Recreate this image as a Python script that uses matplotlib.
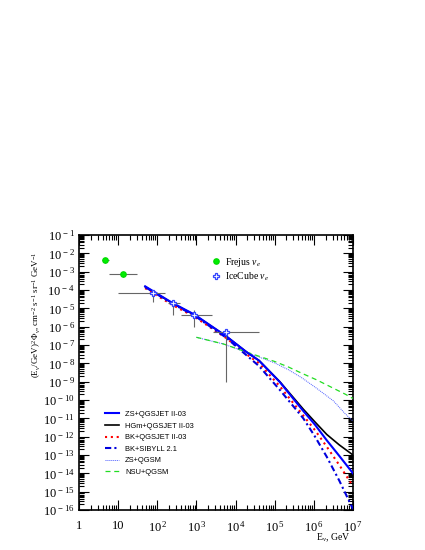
import numpy as np
import matplotlib
matplotlib.use("Agg")
import matplotlib.pyplot as plt
from matplotlib.ticker import LogLocator, FixedLocator, FuncFormatter, NullFormatter

plt.rcParams['font.family'] = ['Liberation Serif', 'DejaVu Serif']
plt.rcParams['mathtext.fontset'] = 'custom'
plt.rcParams['mathtext.rm'] = 'Liberation Serif'
plt.rcParams['mathtext.it'] = 'Liberation Serif:italic'

# ---- data (log10 values) ----
conv_logE = [1.69, 2.39, 2.95, 3.76, 4.29, 4.6, 5.13, 5.73, 6.03, 6.33, 6.65, 7.0]
zs_qgsjet = [-3.80, -4.71, -5.34, -6.52, -7.40, -7.85, -9.02, -10.6, -11.35, -12.2, -13.05, -14.0]
hgm_qgsjet = [-3.82, -4.73, -5.36, -6.52, -7.40, -7.85, -9.0, -10.5, -11.2, -11.88, -12.45, -13.0]
bk_qgsjet = [-3.90, -4.82, -5.46, -6.62, -7.52, -8.0, -9.25, -10.85, -11.65, -12.55, -13.55, -14.7]
bk_sibyll = [-3.84, -4.75, -5.40, -6.60, -7.58, -8.15, -9.45, -11.0, -12.0, -13.1, -14.4, -15.95]

qgsm_logE = [3.0, 3.7, 4.37, 5.0, 5.35, 5.7, 6.07, 6.5, 6.8, 7.0]
zs_qgsm = [-6.58, -6.95, -7.47, -7.98, -8.35, -8.8, -9.36, -10.05, -10.75, -11.15]
nsu_qgsm = [-6.58, -6.95, -7.45, -7.90, -8.20, -8.55, -8.9, -9.36, -9.68, -9.92]

frejus_E = [4.62, 13.6]
frejus_flux = [4.17e-3, 7.2e-4]
frejus_E_lo = [3.8, 5.9]
frejus_E_hi = [5.9, 30.9]
frejus_flux_lo = [2.9e-3, 4.9e-4]
frejus_flux_hi = [5.7e-3, 1.0e-3]

ice_E = [79, 248, 883, 5700]
ice_flux = [7.1e-5, 1.88e-5, 4.3e-6, 4.9e-7]
ice_E_lo = [10.1, 190, 404, 2650]
ice_E_hi = [157, 380, 2455, 40000]
ice_flux_lo = [2.1e-5, 4.3e-6, 1.0e-6, 1.0e-9]
ice_flux_hi = [8.0e-5, 2.2e-5, 8.5e-6, 5.8e-7]

curve_labels = ['ZS+QGSJET II-03', 'HGm+QGSJET II-03', 'BK+QGSJET II-03',
                'BK+SIBYLL 2.1', 'ZS+QGSM', 'NSU+QGSM']

xtick_exp = list(range(0, 8))
ytick_exp = list(range(-16, 0))

# ---- figure ----
fig = plt.figure(figsize=(4.25, 5.5), dpi=100)
ax = fig.add_axes([79/425, 1-510/550, (353-79)/425, (510-235)/550])
ax.set_xscale('log')
ax.set_yscale('log')
ax.set_xlim(1, 1e7)
ax.set_ylim(1e-16, 1e-1)

p = lambda a: np.power(10.0, a)
h1, = ax.plot(p(conv_logE), p(zs_qgsjet), color='#0000ff', lw=1.5, zorder=4)
h2, = ax.plot(p(conv_logE), p(hgm_qgsjet), color='black', lw=1.2, zorder=3)
h3, = ax.plot(p(conv_logE), p(bk_qgsjet), color='#ff0000', lw=1.5, ls=(0, (1, 1.8)), zorder=3)
h4, = ax.plot(p(conv_logE), p(bk_sibyll), color='#0000dd', lw=1.5, ls=(0, (3, 1.5, 1, 1.5)), zorder=3)
h5, = ax.plot(p(qgsm_logE), p(zs_qgsm), color='#4a5cff', lw=0.7, ls=(0, (1, 1)), zorder=3)
h6, = ax.plot(p(qgsm_logE), p(nsu_qgsm), color='#22dd22', lw=0.9, ls=(0, (4, 3)), zorder=3)

fe = np.array(frejus_E); ff = np.array(frejus_flux)
ax.errorbar(fe, ff,
            xerr=[fe - np.array(frejus_E_lo), np.array(frejus_E_hi) - fe],
            yerr=[ff - np.array(frejus_flux_lo), np.array(frejus_flux_hi) - ff],
            fmt='none', ecolor='#666666', elinewidth=0.8, capsize=0, zorder=5)
hf, = ax.plot(fe, ff, 'o', color='#00ee00', ms=3.8, mec='#00dd00', zorder=6, ls='none')

ie = np.array(ice_E); iflx = np.array(ice_flux)
ax.errorbar(ie, iflx,
            xerr=[ie - np.array(ice_E_lo), np.array(ice_E_hi) - ie],
            yerr=[iflx - np.array(ice_flux_lo), np.array(ice_flux_hi) - iflx],
            fmt='none', ecolor='#666666', elinewidth=0.8, capsize=0, zorder=5)
hi, = ax.plot(ie, iflx, 'P', mfc='white', mec='#3344ff', mew=0.9, ms=5, zorder=6, ls='none')

# ticks
ax.xaxis.set_major_locator(FixedLocator([10.0**e for e in xtick_exp]))
ax.yaxis.set_major_locator(FixedLocator([10.0**e for e in ytick_exp]))
ax.xaxis.set_minor_locator(LogLocator(base=10, subs=np.arange(2, 10), numticks=50))
ax.yaxis.set_minor_locator(LogLocator(base=10, subs=np.arange(2, 10), numticks=50))
ax.xaxis.set_minor_formatter(NullFormatter())
ax.yaxis.set_minor_formatter(NullFormatter())

def xfmt(v, pos):
    e = int(round(np.log10(v)))
    if e == 0:
        return '1'
    if e == 1:
        return '10'
    return r'$10^{\,%d}$' % e

def yfmt(v, pos):
    e = int(round(np.log10(v)))
    return r'$10^{\,%d}$' % e

ax.xaxis.set_major_formatter(FuncFormatter(xfmt))
ax.yaxis.set_major_formatter(FuncFormatter(yfmt))
ax.tick_params(which='both', direction='in', top=True, right=True, width=0.8, labelsize=9)
ax.tick_params(which='major', length=7)
ax.tick_params(which='minor', length=3.5)
ax.tick_params(axis='x', pad=7)
ax.tick_params(axis='y', pad=3)
for s in ax.spines.values():
    s.set_linewidth(1.2)

fig.text(37/425, 1-251/550,
         r'$(\mathrm{E}_{\nu}/\mathrm{GeV})^{2}\,\Phi_{\nu}$, cm$^{-2}$ s$^{-1}$ sr$^{-1}$ GeV$^{-1}$',
         rotation=90, ha='center', va='top', fontsize=6.5)
fig.text(351/425, 1-538/550, r'E$_{\nu}$, GeV', ha='right', va='center', fontsize=7)

leg1 = ax.legend([h1, h2, h3, h4, h5, h6], curve_labels, loc='upper left',
                 bbox_to_anchor=(101/425, 1-407/550), bbox_transform=fig.transFigure,
                 frameon=False, prop={'family': 'Liberation Sans', 'size': 5.4},
                 handlelength=1.9, handletextpad=0.8, labelspacing=0.58, borderpad=0)
ax.add_artist(leg1)
ax.legend([hf, hi], [r'Frejus $\nu_{e}$', r'IceCube $\nu_{e}$'], loc='upper left',
          bbox_to_anchor=(207/425, 1-251/550), bbox_transform=fig.transFigure,
          frameon=False, fontsize=7, handlelength=0.9, handletextpad=0.5,
          labelspacing=0.2, borderpad=0)

fig.savefig('out.png', dpi=100)
